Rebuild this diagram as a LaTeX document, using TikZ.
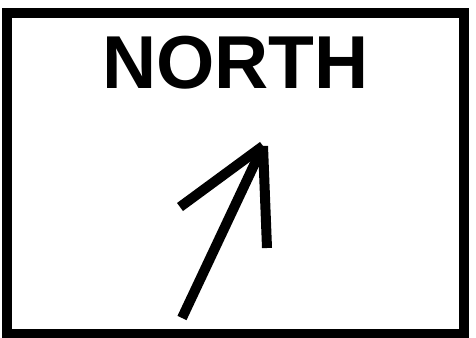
\documentclass[tikz,border=0pt]{standalone}
\usepackage{fontspec}
\setmainfont{Liberation Sans}
\begin{document}
\begin{tikzpicture}[x=1pt,y=-1pt,
  frame/.style={draw=black,line width=10pt},
  arrowline/.style={draw=black,line width=10pt,line cap=butt},
  title/.style={font=\fontsize{75}{80}\selectfont\bfseries,inner sep=0pt,anchor=base}]
\useasboundingbox (0,0) rectangle (476,337);
\fill[white] (0,0) rectangle (476,337);
\draw[frame] (7,13) rectangle (464,334);
\node[title] (t) at (235.5,88) {NORTH};
\coordinate (tail) at (182,318);
\coordinate (tip) at (263,146);
\coordinate (bl) at (180,207);
\coordinate (br) at (267,248);
\draw[arrowline] (tail) -- (tip);
\draw[arrowline] (bl) -- (tip);
\draw[arrowline] (tip) -- (br);
\end{tikzpicture}
\end{document}
